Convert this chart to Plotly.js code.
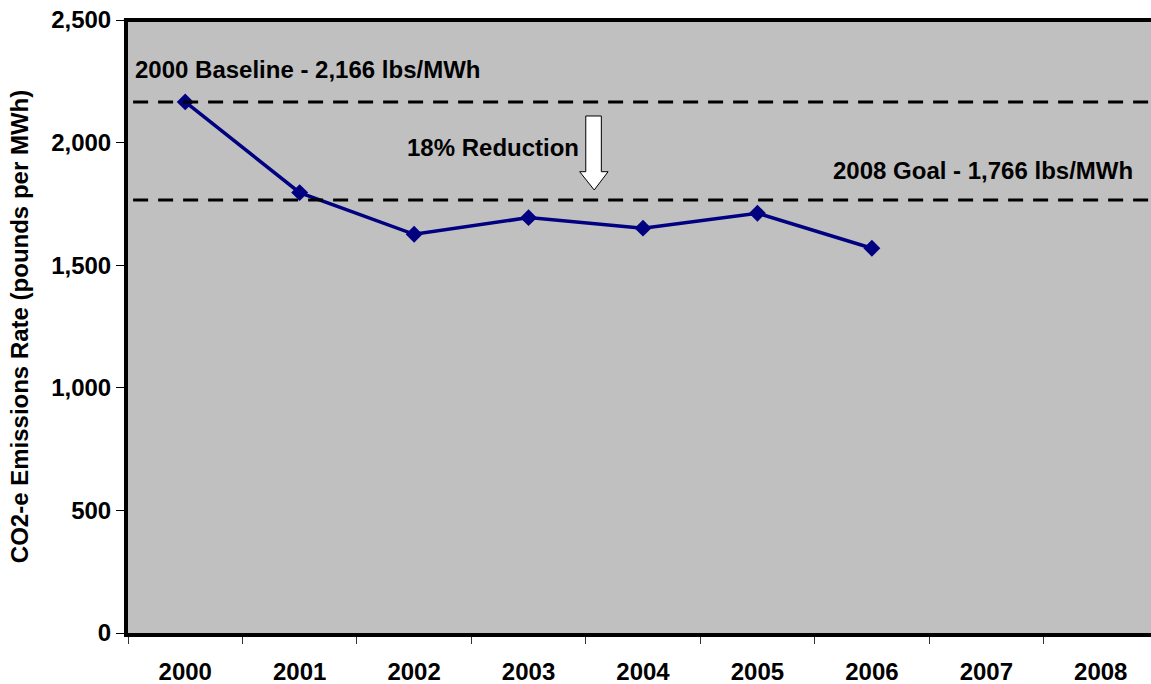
<!DOCTYPE html>
<html>
<head>
<meta charset="utf-8">
<script src="https://cdn.plot.ly/plotly-3.0.1.min.js"></script>
<style>
  html, body { margin: 0; padding: 0; overflow: hidden; background: #fff; }
  #chart { width: 1151px; height: 684px; }
</style>
</head>
<body>
<div id="chart"></div>
<script>
// Annual CO2-e emissions rate (pounds per MWh)
const years = ['2000', '2001', '2002', '2003', '2004', '2005', '2006', '2007', '2008'];
const measuredYears = ['2000', '2001', '2002', '2003', '2004', '2005', '2006'];
const emissionsRate = [2166, 1796, 1626, 1694, 1651, 1712, 1569];

// Reference levels
const baselineRate = 2166;   // 2000 baseline
const goalRate = 1766;       // 2008 goal (18% reduction)

const FONT = 'Liberation Sans, Arial, Helvetica, sans-serif';
const fmt = v => v.toLocaleString('en-US');

// The last category runs slightly past the right edge of the figure
const xRange = [-0.5, 8.439];

const trace = {
  type: 'scatter',
  mode: 'lines+markers',
  x: measuredYears,
  y: emissionsRate,
  line: { color: '#000080', width: 3.5 },
  marker: { symbol: 'diamond', size: 13, color: '#000080' },
  hoverinfo: 'x+y'
};

const dashed = { color: '#000000', width: 3, dash: '15px,10px' };

// Block arrow between the two reference lines (x in category units, y in paper units)
const arrowPath = [
  'M 3.5 0.8434',
  'L 3.636 0.8434',
  'L 3.636 0.7525',
  'L 3.695 0.7525',
  'L 3.574 0.7227',
  'L 3.447 0.7525',
  'L 3.5 0.7525',
  'Z'
].join(' ');

const labelFont = { family: FONT, size: 24, color: '#000000', weight: 'bold' };

const layout = {
  width: 1151,
  height: 684,
  margin: { l: 128, r: 0, t: 20, b: 51 },
  paper_bgcolor: '#ffffff',
  plot_bgcolor: '#c0c0c0',
  showlegend: false,
  font: labelFont,
  xaxis: {
    type: 'category',
    categoryorder: 'array',
    categoryarray: years,
    tickvals: years,
    range: xRange,
    tickson: 'boundaries',
    ticks: 'outside',
    ticklen: 7,
    tickwidth: 1,
    tickcolor: '#333333',
    ticklabelstandoff: 14,
    showline: true,
    linecolor: '#000000',
    linewidth: 4,
    showgrid: false,
    zeroline: false,
    tickfont: labelFont,
    fixedrange: true
  },
  yaxis: {
    range: [0, 2500],
    tick0: 0,
    dtick: 500,
    tickformat: ',d',
    ticks: 'outside',
    ticklen: 8,
    tickwidth: 1,
    tickcolor: '#000000',
    showline: true,
    linecolor: '#000000',
    linewidth: 4,
    showgrid: false,
    zeroline: false,
    tickfont: labelFont,
    title: {
      text: 'CO2-e Emissions Rate (pounds per MWh)',
      font: labelFont,
      standoff: 17
    },
    fixedrange: true
  },
  shapes: [
    // top border of the plot area
    {
      type: 'line', xref: 'paper', yref: 'paper',
      x0: -0.004, x1: 1, y0: 1, y1: 1,
      line: { color: '#000000', width: 4 }, layer: 'above'
    },
    {
      type: 'line', xref: 'paper', yref: 'y',
      x0: 0.005, x1: 1, y0: baselineRate, y1: baselineRate,
      line: dashed, layer: 'above'
    },
    {
      type: 'line', xref: 'paper', yref: 'y',
      x0: 0.005, x1: 1, y0: goalRate, y1: goalRate,
      line: dashed, layer: 'above'
    },
    {
      type: 'path', xref: 'x', yref: 'paper',
      path: arrowPath,
      fillcolor: '#ffffff',
      line: { color: '#000000', width: 1 },
      layer: 'above'
    }
  ],
  annotations: [
    {
      xref: 'x', yref: 'y', x: -0.455, y: 2300,
      xanchor: 'left', yanchor: 'middle',
      text: '2000 Baseline - ' + fmt(baselineRate) + ' lbs/MWh',
      showarrow: false,
      font: labelFont
    },
    {
      xref: 'x', yref: 'y', x: 3.456, y: 1978,
      xanchor: 'right', yanchor: 'middle',
      text: '18% Reduction',
      showarrow: false,
      font: labelFont
    },
    {
      xref: 'x', yref: 'y', x: 8.301, y: 1886,
      xanchor: 'right', yanchor: 'middle',
      text: '2008 Goal - ' + fmt(goalRate) + ' lbs/MWh',
      showarrow: false,
      font: labelFont
    }
  ]
};

Plotly.newPlot('chart', [trace], layout, { displayModeBar: false, staticPlot: true });
</script>
</body>
</html>
